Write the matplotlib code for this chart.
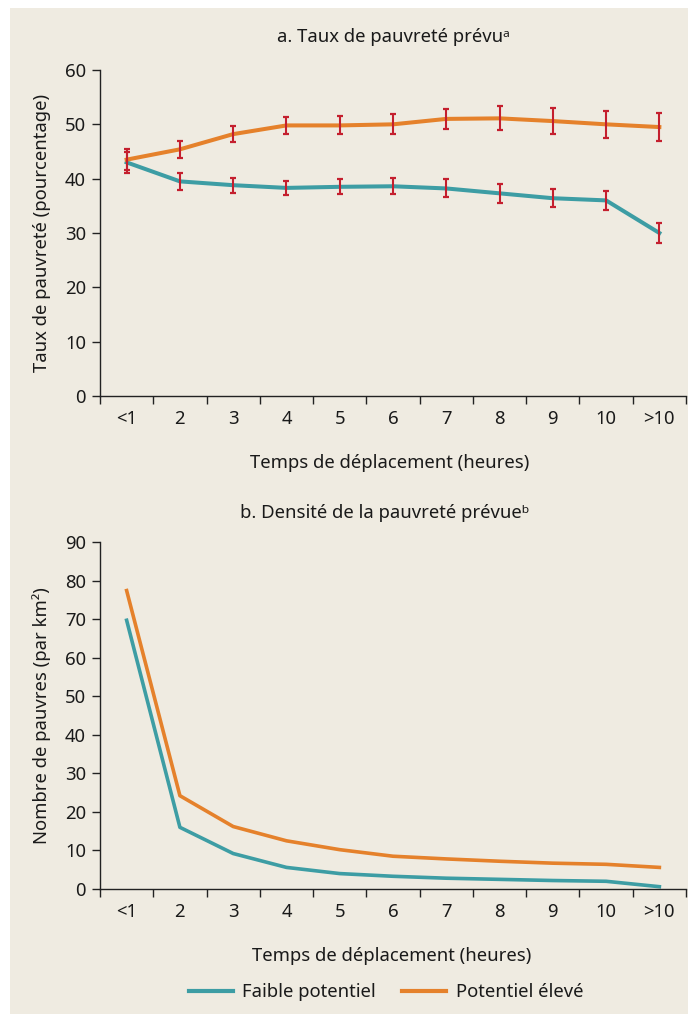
import matplotlib
matplotlib.use("Agg")
import matplotlib.pyplot as plt
from matplotlib.patches import Rectangle
from matplotlib.lines import Line2D

plt.rcParams['font.family'] = ['Noto Sans', 'DejaVu Sans']

# categories (travel time, hours)
labels = ['<1', '2', '3', '4', '5', '6', '7', '8', '9', '10', '>10']

# a. predicted poverty rate (%)
rate_low = [43.0, 39.5, 38.8, 38.3, 38.5, 38.6, 38.2, 37.3, 36.4, 36.0, 30.0]
err_low = [2.0, 1.5, 1.35, 1.3, 1.4, 1.5, 1.65, 1.7, 1.7, 1.75, 1.8]
rate_high = [43.5, 45.4, 48.2, 49.8, 49.8, 50.0, 51.0, 51.1, 50.6, 50.0, 49.5]
err_high = [1.9, 1.6, 1.5, 1.5, 1.65, 1.85, 1.9, 2.2, 2.4, 2.5, 2.6]

# b. predicted poverty density (poor per km2)
dens_low = [69.7, 16.0, 9.2, 5.6, 4.0, 3.3, 2.8, 2.5, 2.2, 2.0, 0.6]
dens_high = [77.4, 24.2, 16.2, 12.5, 10.2, 8.5, 7.8, 7.2, 6.7, 6.4, 5.6]

teal = '#3d9da4'
orange = '#e5812b'
red = '#c41f2e'
bg = '#efebe1'
txt = '#1a1a1a'
fs = 13.3

W, H = 688, 1014
fig = plt.figure(figsize=(W / 100, H / 100), dpi=100, facecolor='white')
fig.patches.append(Rectangle((10 / W, 0), 1, 1 - 8 / H, transform=fig.transFigure,
                             facecolor=bg, edgecolor='none', zorder=-10))

xs = [i + 0.5 for i in range(len(labels))]


def style_axes(ax, ymax, step):
    ax.set_facecolor('none')
    for s in ['top', 'right']:
        ax.spines[s].set_visible(False)
    for s in ['left', 'bottom']:
        ax.spines[s].set_color('#222222')
        ax.spines[s].set_linewidth(1.0)
    ax.set_xlim(0, len(labels))
    ax.set_ylim(0, ymax)
    ax.set_yticks(range(0, ymax + 1, step))
    ax.set_xticks(range(0, len(labels) + 1))
    ax.set_xticklabels([])
    ax.set_xticks(xs, minor=True)
    ax.set_xticklabels(labels, minor=True)
    ax.tick_params(axis='x', which='major', length=6, width=1.0, color='#222222')
    ax.tick_params(axis='x', which='minor', length=0, pad=10, labelsize=fs, labelcolor=txt)
    ax.tick_params(axis='y', length=6, width=1.0, color='#222222', labelsize=fs,
                   labelcolor=txt, pad=4)


# panel a
ax1 = fig.add_axes([100 / W, 1 - 396 / H, 586 / W, 326 / H])
style_axes(ax1, 60, 10)
ax1.plot(xs, rate_low, color=teal, lw=2.9, zorder=2)
ax1.plot(xs, rate_high, color=orange, lw=2.9, zorder=2)
ax1.errorbar(xs, rate_low, yerr=err_low, fmt='none', ecolor=red, elinewidth=1.5,
             capsize=2.5, capthick=1.6, zorder=3)
ax1.errorbar(xs, rate_high, yerr=err_high, fmt='none', ecolor=red, elinewidth=1.5,
             capsize=2.5, capthick=1.6, zorder=3)

fig.text(393 / W, 1 - 37 / H, 'a. Taux de pauvreté prévuᵃ', ha='center', va='center',
         fontsize=fs, color=txt)
fig.text(42 / W, 1 - 233 / H, 'Taux de pauvreté (pourcentage)', rotation=90,
         ha='center', va='center', fontsize=fs, color=txt)
fig.text(390 / W, 1 - 463 / H, 'Temps de déplacement (heures)', ha='center',
         va='center', fontsize=fs, color=txt)

# panel b
ax2 = fig.add_axes([100 / W, 1 - 889 / H, 586 / W, 347 / H])
style_axes(ax2, 90, 10)
ax2.plot(xs, dens_low, color=teal, lw=2.6)
ax2.plot(xs, dens_high, color=orange, lw=2.6)

fig.text(385 / W, 1 - 513 / H, 'b. Densité de la pauvreté prévueᵇ', ha='center',
         va='center', fontsize=fs, color=txt)
fig.text(42 / W, 1 - 716 / H, 'Nombre de pauvres (par km²)', rotation=90,
         ha='center', va='center', fontsize=fs, color=txt)
fig.text(392 / W, 1 - 956 / H, 'Temps de déplacement (heures)', ha='center',
         va='center', fontsize=fs, color=txt)

handles = [Line2D([], [], color=teal, lw=3), Line2D([], [], color=orange, lw=3)]
fig.legend(handles, ['Faible potentiel', 'Potentiel élevé'], loc='center',
           bbox_to_anchor=(386 / W, 1 - 992 / H), ncol=2, frameon=False,
           fontsize=fs, handlelength=2.4, columnspacing=1.4, handletextpad=0.5,
           labelcolor=txt)

fig.savefig('out.png', dpi=100, facecolor='white')
